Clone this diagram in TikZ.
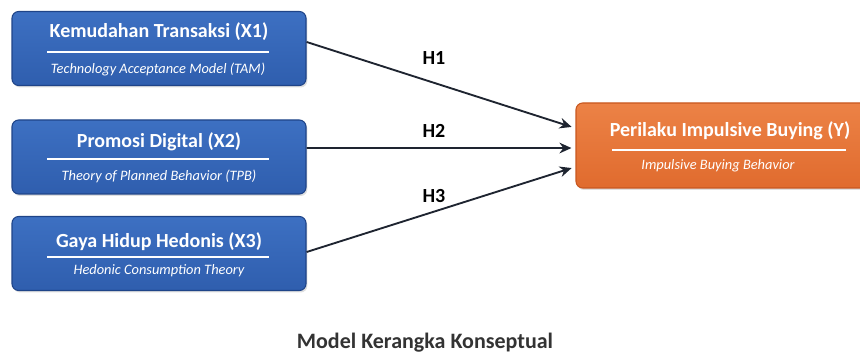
\documentclass[tikz,border=0pt]{standalone}
\usepackage{fontspec}
\setmainfont{Carlito}
\usepackage{xcolor}
\usetikzlibrary{arrows.meta, positioning, shadows}

\definecolor{boxblue}{HTML}{2F5EAE}
\definecolor{boxbluetop}{HTML}{3D70C2}
\definecolor{boxblueedge}{HTML}{1F4488}
\definecolor{boxorange}{HTML}{E06B2E}
\definecolor{boxorangetop}{HTML}{EC8246}
\definecolor{boxorangeedge}{HTML}{C8571F}
\definecolor{captiongray}{HTML}{333333}
\definecolor{arrowdark}{HTML}{1E2430}

\tikzset{
	varbox/.style={rounded corners=5pt, minimum width=294*0.75pt, minimum height=74*0.75pt,
		draw=boxblueedge, top color=boxbluetop, bottom color=boxblue, line width=0.8pt,
		drop shadow={opacity=0.25, shadow xshift=1pt, shadow yshift=-1.5pt}},
	outbox/.style={varbox, minimum width=292*0.75pt, minimum height=85*0.75pt,
		draw=boxorangeedge, top color=boxorangetop, bottom color=boxorange},
	boxtitle/.style={text=white, font=\bfseries\fontsize{15}{17}\selectfont},
	boxsub/.style={text=white, font=\itshape\fontsize{10.8}{12}\selectfont},
	hyp/.style={font=\bfseries\fontsize{15}{17}\selectfont, text=black},
	hyparrow/.style={-{Stealth[length=9pt, width=8pt]}, arrowdark, line width=1.4pt, shorten >=3pt}
}

\begin{document}
\begin{tikzpicture}[x=0.75pt, y=0.75pt, thick]
			
			\useasboundingbox (0,0) rectangle (860,356);
			
			% independent variables
			\node[varbox] (x1) at (159,307.5) {};
			\node[boxtitle] (x1t) at (159,324) {Kemudahan Transaksi (X1)};
			\node[boxsub] (x1s) at (158,287) {Technology Acceptance Model (TAM)};
			\draw[white, line width=1pt] (47,304) -- (269,304);
			
			\node[varbox] (x2) at (159,199) {};
			\node[boxtitle] (x2t) at (159,214) {Promosi Digital (X2)};
			\node[boxsub] (x2s) at (159,180) {Theory of Planned Behavior (TPB)};
			\draw[white, line width=1pt] (47,197) -- (269,197);
			
			\node[varbox] (x3) at (159,102.5) {};
			\node[boxtitle] (x3t) at (159,114) {Gaya Hidup Hedonis (X3)};
			\node[boxsub] (x3s) at (159,85) {Hedonic Consumption Theory};
			\draw[white, line width=1pt] (47,99) -- (269,99);
			
			% dependent variable
			\node[outbox] (y) at (722,210.5) {};
			\node[boxtitle] (yt) at (730,225) {Perilaku Impulsive Buying (Y)};
			\node[boxsub] (ys) at (718,190) {Impulsive Buying Behavior};
			\draw[white, line width=1pt] (612,206) -- (846,206);
			
			% hypotheses
			\draw[hyparrow] ([yshift=4.9pt]x1.east) -- ([yshift=13pt]y.west);
			\draw[hyparrow] ([yshift=6.7pt]x2.east) -- ([yshift=-1.9pt]y.west);
			\draw[hyparrow] ([yshift=1.1pt]x3.east) -- ([yshift=-16pt]y.west);
			\node[hyp] (h1) at (434,298) {H1};
			\node[hyp] (h2) at (434,225) {H2};
			\node[hyp] (h3) at (434,160) {H3};
			
			\node[font=\bfseries\fontsize{16.5}{18}\selectfont, text=captiongray] (cap) at (425,13) {Model Kerangka Konseptual};
		\end{tikzpicture}
\end{document}
